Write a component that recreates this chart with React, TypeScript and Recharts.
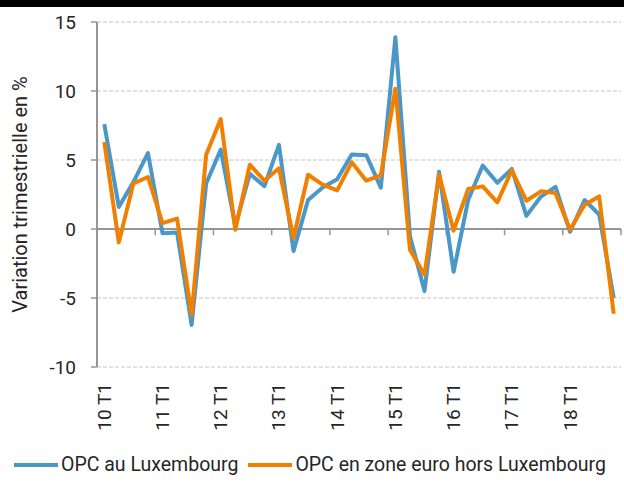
import React from "react";
import {
  LineChart,
  Line,
  XAxis,
  YAxis,
  CartesianGrid,
  ReferenceLine,
  Legend,
  Label,
} from "recharts";

const quarters = [
  "10 T1", "10 T2", "10 T3", "10 T4",
  "11 T1", "11 T2", "11 T3", "11 T4",
  "12 T1", "12 T2", "12 T3", "12 T4",
  "13 T1", "13 T2", "13 T3", "13 T4",
  "14 T1", "14 T2", "14 T3", "14 T4",
  "15 T1", "15 T2", "15 T3", "15 T4",
  "16 T1", "16 T2", "16 T3", "16 T4",
  "17 T1", "17 T2", "17 T3", "17 T4",
  "18 T1", "18 T2", "18 T3", "18 T4",
];

const opcLux = [
  7.6, 1.6, 3.4, 5.5, -0.3, -0.25, -6.95, 3.3, 5.75, 0.2, 4.0, 3.1,
  6.1, -1.6, 2.1, 3.0, 3.6, 5.4, 5.35, 3.0, 13.9, -0.5, -4.5, 4.15,
  -3.1, 2.1, 4.6, 3.35, 4.35, 0.95, 2.35, 3.05, -0.2, 2.1, 1.05, -5.0,
];

const opcEuro = [
  6.3, -0.97, 3.3, 3.77, 0.43, 0.75, -6.2, 5.38, 7.97, -0.05, 4.66, 3.5,
  4.4, -0.65, 3.93, 3.21, 2.8, 4.83, 3.5, 3.89, 10.17, -1.5, -3.31, 3.95,
  -0.12, 2.9, 3.09, 1.93, 4.25, 2.05, 2.73, 2.6, -0.05, 1.76, 2.36, -6.14,
];

const yTicks = [-10, -5, 0, 5, 10, 15];
const seriesNames = ["OPC au Luxembourg", "OPC en zone euro hors Luxembourg"];
const yTitle = "Variation trimestrielle en %";

const BLUE = "#4b97c8";
const ORANGE = "#f28000";
const FONT = "Roboto, 'DejaVu Sans', sans-serif";
const TEXT = "#262626";
const AXIS = "#959595";

const data = quarters.map((q, i) => ({
  pos: i + 0.5,
  q,
  lux: opcLux[i],
  euro: opcEuro[i],
}));

const labelTicks = quarters
  .map((_, i) => i)
  .filter((i) => i % 4 === 0)
  .map((i) => i + 0.5);

const boundaryTicks = quarters
  .map((_, i) => i)
  .filter((i) => i % 4 === 0)
  .concat([quarters.length]);

const XTick = (props: any) => {
  const { x, y, payload } = props;
  const idx = Math.round(payload.value - 0.5);
  return (
    <text
      x={x}
      y={y}
      transform={`rotate(-90 ${x} ${y})`}
      textAnchor="end"
      dominantBaseline="central"
      fontFamily={FONT}
      fontSize={19}
      fill={TEXT}
    >
      {quarters[idx]}
    </text>
  );
};

const YTitle = (props: any) => {
  const { viewBox } = props;
  const cx = viewBox.x + 20;
  const cy = viewBox.y + viewBox.height / 2;
  return (
    <text
      x={cx}
      y={cy}
      transform={`rotate(-90 ${cx} ${cy})`}
      textAnchor="middle"
      dominantBaseline="central"
      fontFamily={FONT}
      fontSize={20}
      fill={TEXT}
    >
      {yTitle}
    </text>
  );
};

const LegendContent = () => {
  const colors = [BLUE, ORANGE];
  return (
    <div
      style={{
        display: "flex",
        alignItems: "center",
        height: 40,
        paddingTop: 7,
        boxSizing: "border-box",
        fontFamily: FONT,
        fontSize: 19.5,
        color: TEXT,
      }}
    >
      {seriesNames.map((name, i) => (
        <div
          key={name}
          style={{
            display: "flex",
            alignItems: "center",
            marginLeft: i === 0 ? 14 : 10,
          }}
        >
          <svg width={44} height={4} style={{ display: "block" }}>
            <line x1={0} y1={2} x2={44} y2={2} stroke={colors[i]} strokeWidth={4} />
          </svg>
          <span style={{ marginLeft: 3, whiteSpace: "nowrap" }}>{name}</span>
        </div>
      ))}
    </div>
  );
};

export default function App() {
  return (
    <div style={{ position: "absolute", left: 0, top: 0, width: 624, height: 481, background: "#fff" }}>
      <div style={{ position: "absolute", left: 0, top: 0, width: 624, height: 7, background: "#000" }} />
      <LineChart
        width={624}
        height={481}
        data={data}
        margin={{ top: 22, right: 3, left: 0, bottom: 0 }}
      >
        <CartesianGrid
          horizontal
          vertical={false}
          stroke="#c4c4c4"
          strokeDasharray="4 2"
          horizontalValues={[-10, -5, 5, 10, 15]}
        />
        <XAxis
          dataKey="pos"
          type="number"
          domain={[0, quarters.length]}
          ticks={labelTicks}
          interval={0}
          axisLine={false}
          tickLine={false}
          tickSize={0}
          tickMargin={16}
          height={74}
          tick={<XTick />}
        />
        <YAxis
          type="number"
          domain={[-10, 15]}
          ticks={yTicks}
          interval={0}
          width={97}
          axisLine={{ stroke: AXIS, strokeWidth: 2 }}
          tickLine={{ stroke: AXIS, strokeWidth: 1.5 }}
          tickSize={6}
          tickMargin={15}
          tick={{ fontFamily: FONT, fontSize: 19, fill: TEXT }}
        >
          <Label content={<YTitle />} />
        </YAxis>
        <ReferenceLine y={0} stroke={AXIS} strokeWidth={2} />
        {boundaryTicks.map((b) => (
          <ReferenceLine
            key={b}
            segment={[
              { x: b, y: 0 },
              { x: b, y: -0.45 },
            ]}
            stroke={AXIS}
            strokeWidth={1.5}
            ifOverflow="visible"
          />
        ))}
        <Line
          type="linear"
          dataKey="lux"
          name={seriesNames[0]}
          stroke={BLUE}
          strokeWidth={4}
          strokeLinejoin="round"
          dot={false}
          activeDot={false}
          isAnimationActive={false}
        />
        <Line
          type="linear"
          dataKey="euro"
          name={seriesNames[1]}
          stroke={ORANGE}
          strokeWidth={4}
          strokeLinejoin="round"
          dot={false}
          activeDot={false}
          isAnimationActive={false}
        />
        <Legend
          verticalAlign="bottom"
          height={40}
          wrapperStyle={{ left: 0, width: 624, height: 40 }}
          content={<LegendContent />}
        />
      </LineChart>
    </div>
  );
}
